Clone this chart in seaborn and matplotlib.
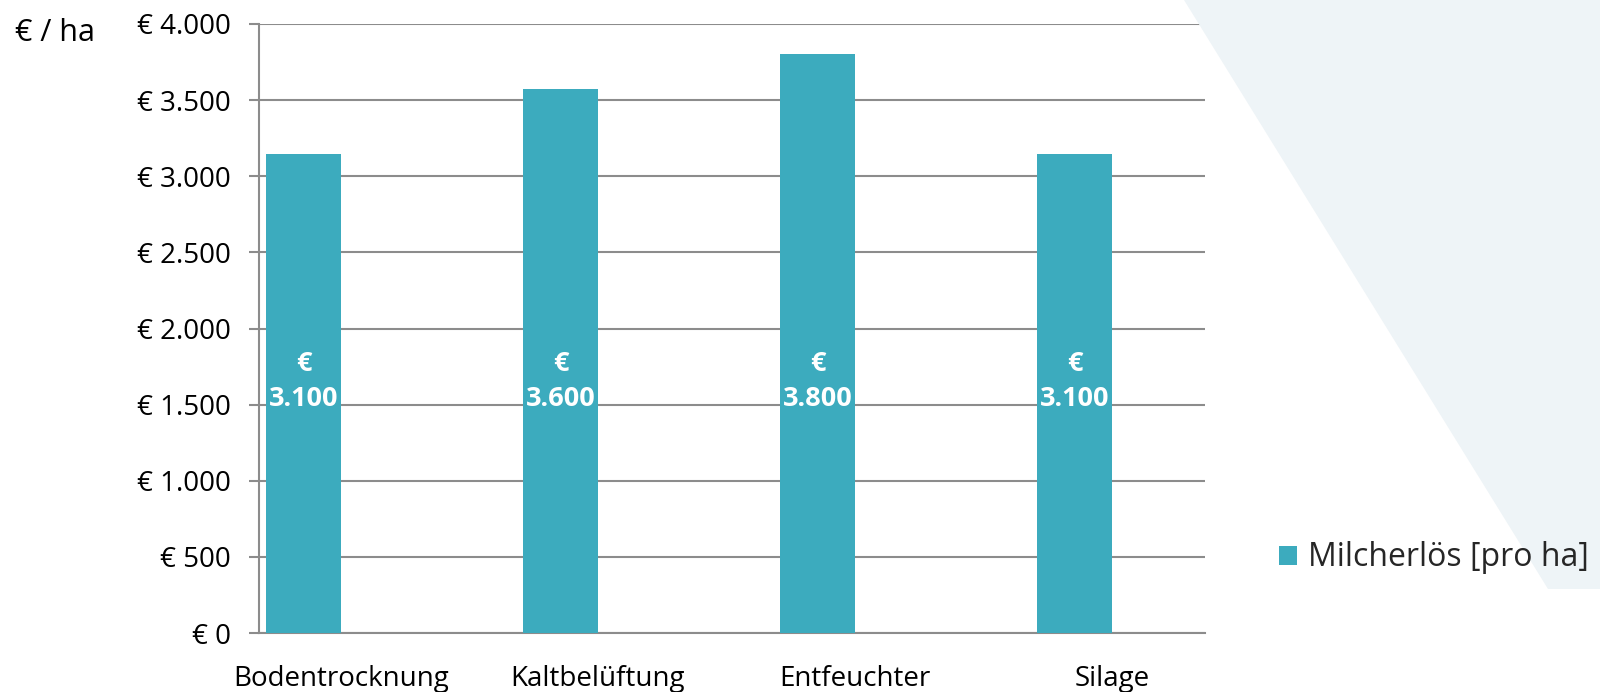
import matplotlib
matplotlib.use("Agg")
import matplotlib.pyplot as plt
from matplotlib.patches import Polygon, Rectangle
import seaborn as sns
import pandas as pd

# ---- data ----
categories = ["Bodentrocknung", "Kaltbelüftung", "Entfeuchter", "Silage"]
values = [3145, 3575, 3800, 3145]
value_labels = ["3.100", "3.600", "3.800", "3.100"]
series_name = "Milcherlös [pro ha]"
y_ticks = [0, 500, 1000, 1500, 2000, 2500, 3000, 3500, 4000]
y_tick_labels = ["€ 0", "€ 500", "€ 1.000", "€ 1.500", "€ 2.000",
                 "€ 2.500", "€ 3.000", "€ 3.500", "€ 4.000"]
unit_label = "€ / ha"

# ---- style ----
bar_color = "#3CABBE"
grid_color = "#8C8C8C"
bg_poly_color = "#EEF4F7"
FONT = ["Open Sans", "DejaVu Sans"]

sns.set_theme(style="white")
plt.rcParams["font.family"] = FONT

W, H = 1600, 692
fig = plt.figure(figsize=(W / 100, H / 100), dpi=100)
fig.patch.set_facecolor("white")

# decorative background polygon (figure coords)
poly = Polygon([(1184 / W, 1.0), (1.0, 1.0), (1.0, 1 - 589 / H), (1548 / W, 1 - 589 / H)],
               closed=True, transform=fig.transFigure, facecolor=bg_poly_color,
               edgecolor="none", zorder=0)
fig.patches.append(poly)

ax = fig.add_axes([259 / W, 1 - 633 / H, (1205 - 259) / W, (633 - 24) / H])
ax.patch.set_alpha(0)

df = pd.DataFrame({"Kategorie": categories, "Wert": values, "Reihe": series_name})
sns.barplot(data=df, x="Kategorie", y="Wert", hue="Reihe",
            hue_order=[series_name, "_leer"],
            palette={series_name: bar_color, "_leer": bar_color},
            width=0.584, dodge=True, legend=False, errorbar=None,
            linewidth=0, saturation=1, ax=ax, zorder=3)

ax.set_ylim(0, 4000)
ax.set_xlim(-0.319, 3.362)
ax.set_yticks(y_ticks)
ax.set_yticklabels(y_tick_labels)
ax.set_xlabel("")
ax.set_ylabel("")

ax.yaxis.grid(True, color=grid_color, linewidth=1.5, zorder=1)
ax.set_axisbelow(True)
for s in ["top", "right"]:
    ax.spines[s].set_visible(False)
for s in ["left", "bottom"]:
    ax.spines[s].set_color(grid_color)
    ax.spines[s].set_linewidth(1.5)

ax.tick_params(axis="y", which="both", left=True, length=7.2, width=1.5,
               color=grid_color, pad=13, labelsize=20, labelcolor="black")
ax.tick_params(axis="x", bottom=False, pad=17, labelsize=20, labelcolor="black")

# value labels inside bars
bars = [p for p in ax.patches if p.get_height() > 0]
for p, lbl in zip(bars, value_labels):
    ax.text(p.get_x() + p.get_width() / 2, 1655, "€\n" + lbl, ha="center", va="center",
            color="white", fontsize=19.5, fontweight="bold", linespacing=1.45, zorder=5)

# unit label
fig.text(15 / W, 1 - 33 / H, unit_label, ha="left", va="center", fontsize=22, color="black")

# legend
handle = Rectangle((0, 0), 1, 1, facecolor=bar_color, edgecolor="none")
fig.legend([handle], [series_name], loc="center left",
           bbox_to_anchor=(1279 / W, 1 - 558 / H), bbox_transform=fig.transFigure,
           frameon=False, fontsize=23, handlelength=0.55, handleheight=0.55,
           handletextpad=0.35, borderpad=0, borderaxespad=0)

fig.savefig("out.png", dpi=100, facecolor="white")
